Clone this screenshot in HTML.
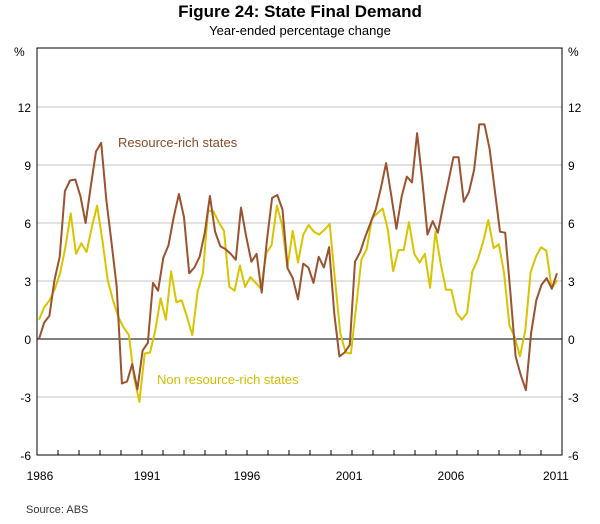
<!DOCTYPE html>
<html><head><meta charset="utf-8"><style>
body{margin:0;background:#fff;}
svg text{font-family:"Liberation Sans",Arial,sans-serif;}
</style></head><body>
<svg width="600" height="519" xmlns="http://www.w3.org/2000/svg">
<text x="300" y="17" text-anchor="middle" font-size="17" font-weight="bold" fill="#000">Figure 24: State Final Demand</text>
<text x="300" y="35" text-anchor="middle" font-size="13" fill="#000">Year-ended percentage change</text>
<g id="grid"></g>
<g id="series"></g>
<rect x="37" y="48" width="525" height="407" fill="none" stroke="#000" stroke-width="1"/>
<text x="14" y="56" font-size="12">%</text>
<text x="568" y="56" font-size="12">%</text>
<text x="118" y="147" font-size="13" fill="#8b4a2b">Resource-rich states</text>
<text x="157" y="384" font-size="13" fill="#d2bd00">Non resource-rich states</text>
<text x="26" y="513" font-size="11" fill="#333">Source: ABS</text>
</svg>
<script>
const yTicks=[12,9,6,3,0,-3,-6];
const xLabels=["1986","1991","1996","2001","2006","2011"];
const xLabelYears=[1986.14,1991.24,1996.0,2000.86,2005.71,2010.71];
const resourceRich=[0,0.85,1.2,3.05,4.25,7.65,8.2,8.25,7.4,6.0,7.9,9.7,10.15,7.2,5.0,2.7,-2.3,-2.2,-1.3,-2.6,-0.6,-0.2,2.9,2.5,4.2,4.85,6.3,7.5,6.3,3.4,3.7,4.25,5.5,7.4,5.55,4.8,4.65,4.4,
4.1,6.8,5.3,4.0,4.4,2.4,5.1,7.3,7.45,6.7,3.65,3.15,2.05,3.9,3.7,2.9,4.25,3.7,4.75,1.3,-0.9,-0.7,-0.3,4.0,4.5,5.3,6.0,6.7,7.8,9.1,7.45,5.7,7.35,
8.4,8.1,10.65,8.2,5.4,6.1,5.5,6.85,8.1,9.4,9.4,7.1,7.6,8.75,11.1,11.1,9.8,7.7,5.55,5.5,2.4,-0.9,-1.85,-2.65,0.3,2.0,2.8,3.15,2.6,3.4];
const nonResourceRich=[1.0,1.65,2.0,2.6,3.4,4.75,6.5,4.4,4.95,4.5,5.8,6.9,5.1,3.05,2.0,1.15,0.6,0.2,-2.0,-3.25,-0.75,-0.7,0.45,2.1,1.0,3.5,1.9,2.0,1.15,0.2,2.45,3.4,6.65,6.6,6.05,5.6,2.7,
2.5,3.8,2.7,3.2,2.9,2.6,4.45,4.85,6.9,5.9,3.7,5.6,3.95,5.4,5.9,5.55,5.4,5.65,5.95,3.05,0.3,-0.7,-0.75,1.65,4.1,4.65,6.25,6.5,6.75,5.65,3.5,4.6,
4.6,6.05,4.4,3.95,4.4,2.65,5.55,3.9,2.55,2.55,1.35,1.0,1.35,3.5,4.1,5.0,6.15,4.7,4.9,3.4,0.7,0.1,-0.9,0.45,3.45,4.25,4.75,4.55,2.6,3.05];
const NS="http://www.w3.org/2000/svg";
const X0=37,X1=562,Y0=48,Y1=455;
function yScale(v){return 339-v*19.33;}
function xYear(y){return X0+(y-1986)*(X1-X0)/25;}
function xIdx(i,n){return 39+i*(557-39)/(n-1);}
function mk(tag,attrs,parent){const e=document.createElementNS(NS,tag);for(const k in attrs)e.setAttribute(k,attrs[k]);parent.appendChild(e);return e;}
const svg=document.querySelector('svg');
const grid=document.getElementById('grid');
yTicks.forEach(t=>{
  const y=yScale(t);
  if(t!==-6){
    const l=mk('line',{x1:X0,x2:X1,y1:y,y2:y,stroke:t===0?'#000':'#c4c4c4','stroke-width':1},grid);
    
    
  }
  const a=mk('text',{x:31,y:y+5,'text-anchor':'end','font-size':12},svg);
  a.textContent=t;
  
  
  const b=mk('text',{x:568,y:y+5,'font-size':12},svg);
  b.textContent=t;
  
  
});
for(let k=1;k<25;k++){
  const x=xYear(1986+k);
  const t=mk('line',{x1:x,x2:x,y1:Y1,y2:Y1-5,stroke:'#000','stroke-width':1},svg);
  
  
}
xLabels.forEach((lab,i)=>{
  const t=mk('text',{x:xYear(xLabelYears[i]),y:480,'text-anchor':'middle','font-size':12},svg);
  t.textContent=lab;
  
  
});
const g=document.getElementById('series');
function draw(arr,color,name){
  const pts=arr.map((v,i)=>xIdx(i,arr.length).toFixed(1)+','+yScale(v).toFixed(1)).join(' ');
  const p=mk('polyline',{points:pts,fill:'none',stroke:color,'stroke-width':2,'stroke-linejoin':'round'},g);
  
  
}
draw(nonResourceRich,'#d9c400','non-resource-rich-line');
draw(resourceRich,'#9a5230','resource-rich-line');
</script>
</body></html>
